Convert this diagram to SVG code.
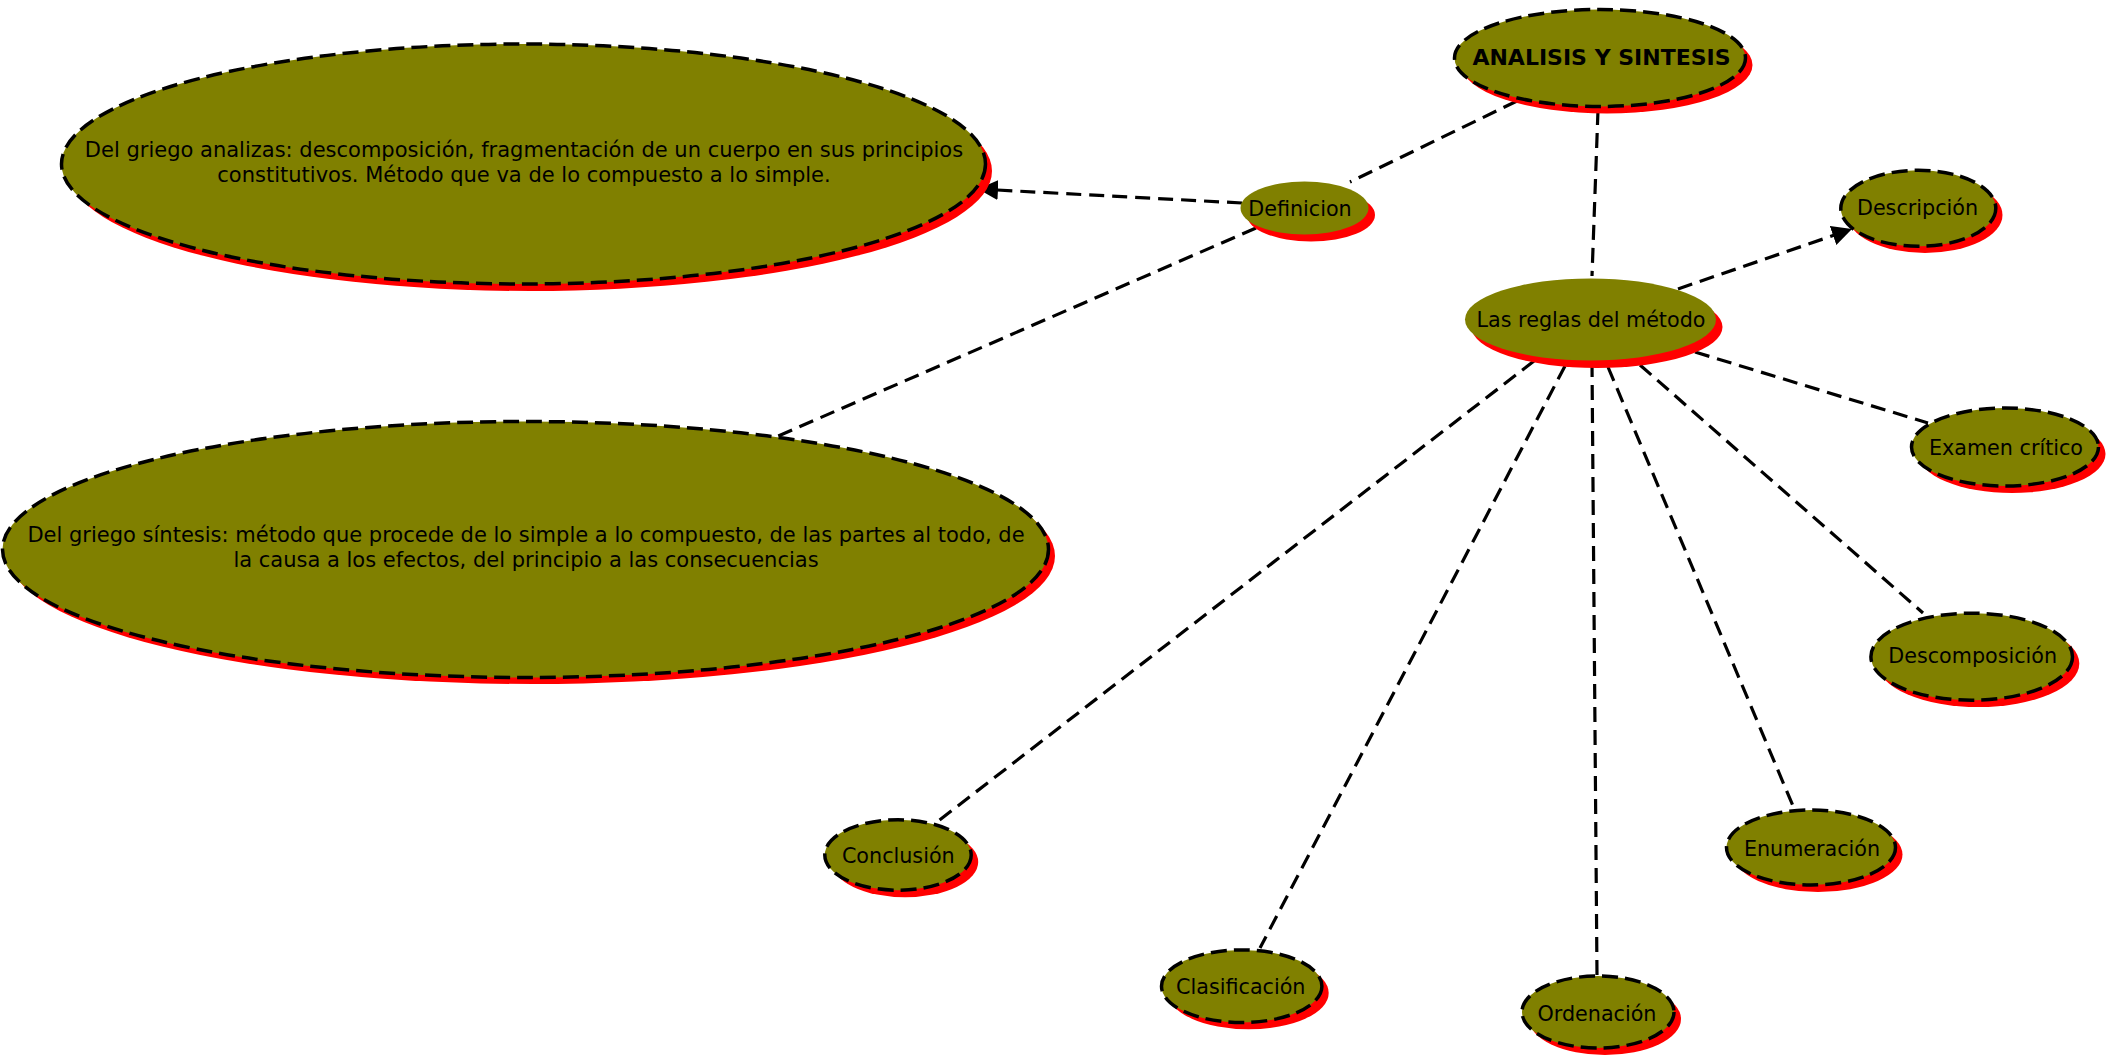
<svg xmlns="http://www.w3.org/2000/svg" width="2110" height="1056" viewBox="0 0 2110 1056">
<style>
.bg{fill:#ffffff}
.sh{fill:#ff0000}
.nd{fill:#808000;stroke:#000000;stroke-width:3.5;stroke-dasharray:16 7}
.nb{fill:#808000;stroke:none}
.tx{font-family:"DejaVu Sans","Verdana",sans-serif;font-size:20.7px;fill:#000000;text-anchor:middle}
.tl{font-family:"DejaVu Sans","Verdana",sans-serif;font-size:21px;fill:#000000;text-anchor:middle}
.tb{font-family:"DejaVu Sans","Verdana",sans-serif;font-size:22px;font-weight:bold;fill:#000000;text-anchor:middle}
.ln{fill:none;stroke:#000000;stroke-width:3.2;stroke-dasharray:15 8}
</style>
<defs>
<marker id="arr" viewBox="0 0 20 20" refX="20" refY="10" markerWidth="20" markerHeight="20" markerUnits="userSpaceOnUse" orient="auto">
<path d="M0,0 L20,10 L0,20 Z" fill="#000000"/>
</marker>
</defs>
<rect class="bg" x="0" y="0" width="2110" height="1056"/>
<g id="connectors">
<line class="ln" x1="1517" y1="101" x2="1350" y2="182"/>
<line class="ln" x1="1242" y1="203" x2="978" y2="189" marker-end="url(#arr)"/>
<line class="ln" x1="1256" y1="228" x2="776" y2="437"/>
<line class="ln" x1="1598" y1="110" x2="1592" y2="276"/>
<line class="ln" x1="1678" y1="289" x2="1852" y2="229" marker-end="url(#arr)"/>
<line class="ln" x1="1695" y1="352" x2="1928" y2="423"/>
<line class="ln" x1="1640" y1="365" x2="1923" y2="613"/>
<line class="ln" x1="1608" y1="367" x2="1793" y2="806"/>
<line class="ln" x1="1592" y1="362" x2="1597" y2="975"/>
<line class="ln" x1="1565" y1="366" x2="1260" y2="948"/>
<line class="ln" x1="1534" y1="361" x2="937" y2="822"/>
</g>
<g id="node-analisis-sintesis">
<ellipse class="sh" cx="1607" cy="65" rx="145.5" ry="48.5"/>
<ellipse class="nd" cx="1600" cy="58" rx="145.5" ry="48.5"/>
<text class="tb" x="1601.5" y="65">ANALISIS Y SINTESIS</text>
</g>
<g id="node-definicion">
<ellipse class="sh" cx="1311" cy="215" rx="64" ry="26.5"/>
<ellipse class="nb" cx="1304.5" cy="208" rx="64" ry="26.5"/>
<text class="tx" x="1300" y="215.5">Definicion</text>
</g>
<g id="node-analiza">
<ellipse class="sh" cx="530" cy="171" rx="462" ry="120"/>
<ellipse class="nd" cx="523.5" cy="164" rx="462" ry="120"/>
<text class="tl" x="524" y="156.5">Del griego analizas: descomposición, fragmentación de un cuerpo en sus principios</text>
<text class="tl" x="524" y="182.3">constitutivos. Método que va de lo compuesto a lo simple.</text>
</g>
<g id="node-sintesis">
<ellipse class="sh" cx="532" cy="556" rx="523" ry="128"/>
<ellipse class="nd" cx="525.5" cy="549.5" rx="523" ry="128"/>
<text class="tl" x="526" y="541.7">Del griego síntesis: método que procede de lo simple a lo compuesto, de las partes al todo, de</text>
<text class="tl" x="526" y="566.7">la causa a los efectos, del principio a las consecuencias</text>
</g>
<g id="node-reglas">
<ellipse class="sh" cx="1597" cy="327" rx="125.5" ry="41"/>
<ellipse class="nb" cx="1590.5" cy="319.5" rx="125.5" ry="41"/>
<text class="tx" x="1591" y="326.7">Las reglas del método</text>
</g>
<g id="node-descripcion">
<ellipse class="sh" cx="1925" cy="215" rx="77.5" ry="38"/>
<ellipse class="nd" cx="1918.3" cy="208.3" rx="77.5" ry="38"/>
<text class="tx" x="1917.5" y="215">Descripción</text>
</g>
<g id="node-examen">
<ellipse class="sh" cx="2012" cy="454" rx="93.5" ry="39"/>
<ellipse class="nd" cx="2005" cy="447" rx="93.5" ry="39"/>
<text class="tx" x="2006" y="455">Examen crítico</text>
</g>
<g id="node-descomposicion">
<ellipse class="sh" cx="1978.5" cy="663.5" rx="100.8" ry="43.5"/>
<ellipse class="nd" cx="1971.7" cy="656.7" rx="100.8" ry="43.5"/>
<text class="tx" x="1972.7" y="662.7">Descomposición</text>
</g>
<g id="node-enumeracion">
<ellipse class="sh" cx="1818" cy="854.5" rx="84.5" ry="37.5"/>
<ellipse class="nd" cx="1811" cy="847.5" rx="84.5" ry="37.5"/>
<text class="tx" x="1812" y="856">Enumeración</text>
</g>
<g id="node-ordenacion">
<ellipse class="sh" cx="1605" cy="1019" rx="76" ry="36"/>
<ellipse class="nd" cx="1598" cy="1012" rx="76" ry="36"/>
<text class="tx" x="1597" y="1020.5">Ordenación</text>
</g>
<g id="node-clasificacion">
<ellipse class="sh" cx="1248.5" cy="993" rx="80.2" ry="36.3"/>
<ellipse class="nd" cx="1241.7" cy="986.2" rx="80.2" ry="36.3"/>
<text class="tx" x="1240.8" y="994">Clasificación</text>
</g>
<g id="node-conclusion">
<ellipse class="sh" cx="905" cy="862" rx="73.2" ry="35.2"/>
<ellipse class="nd" cx="898" cy="855" rx="73.2" ry="35.2"/>
<text class="tx" x="898.3" y="863.3">Conclusión</text>
</g>
</svg>
